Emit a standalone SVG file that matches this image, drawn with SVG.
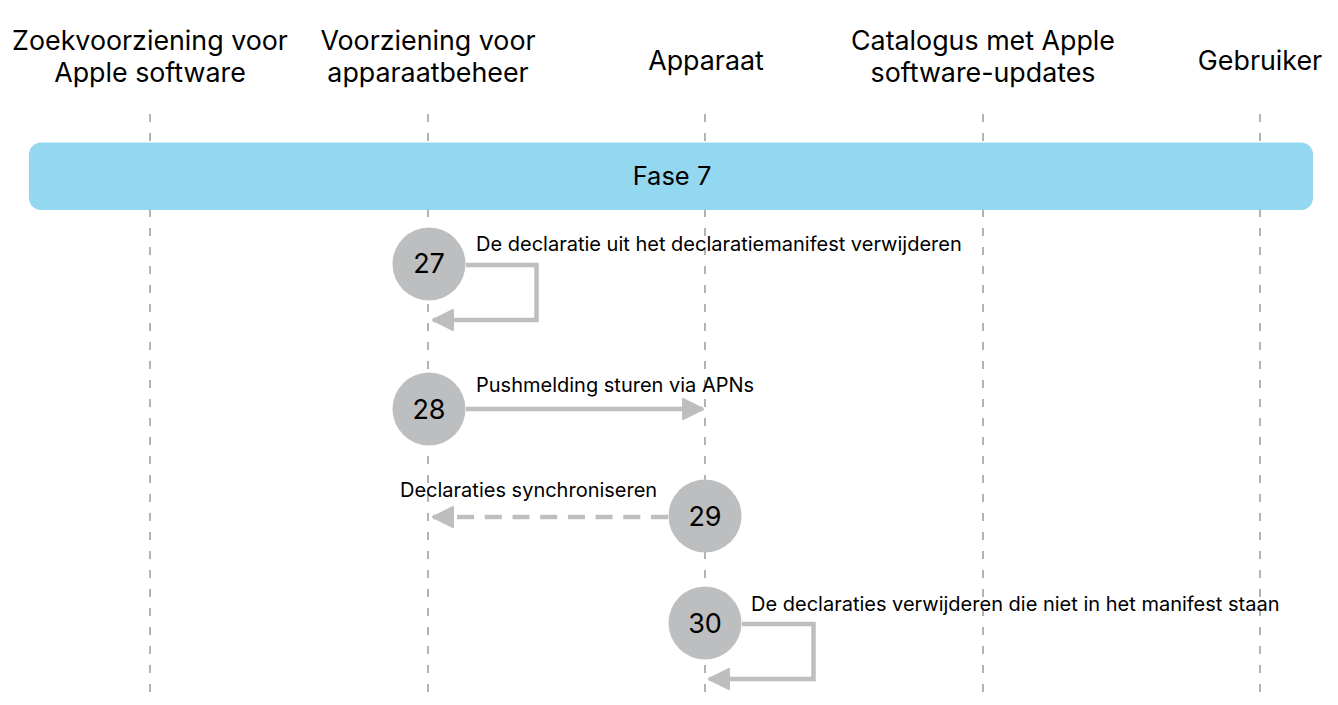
<svg xmlns="http://www.w3.org/2000/svg" width="1338" height="705" viewBox="0 0 1338 705">
<defs>
<style>
.hdr{font-family:Inter,"Liberation Sans",Arial,sans-serif;font-size:26.8px;fill:#000;text-anchor:middle}
.lbl{font-family:Inter,"Liberation Sans",Arial,sans-serif;font-size:20px;fill:#000}
.num{font-family:Inter,"Liberation Sans",Arial,sans-serif;font-size:27px;fill:#000;text-anchor:middle}
.life{stroke:#9a9a9a;stroke-width:1.5;stroke-dasharray:8 11;fill:none}
.step{fill:#bcbec0}
.arr{stroke:#bcbec0;stroke-width:4.5;fill:none}
</style>
<marker id="ah" viewBox="0 0 22 24" refX="21" refY="12" markerWidth="22" markerHeight="24" markerUnits="userSpaceOnUse" orient="auto">
<path d="M1,2 L21,12 L1,22 Z" fill="#bcbec0" stroke="#bcbec0" stroke-width="2" stroke-linejoin="round"/>
</marker>
</defs>
<rect width="1338" height="705" fill="#fff"/>
<g id="lifelines">
<line class="life" x1="150" y1="114" x2="150" y2="698"/>
<line class="life" x1="428" y1="114" x2="428" y2="698"/>
<line class="life" x1="705" y1="114" x2="705" y2="698"/>
<line class="life" x1="983" y1="114" x2="983" y2="698"/>
<line class="life" x1="1260" y1="114" x2="1260" y2="698"/>
</g>
<g id="headers">
<g id="actor-zoek"><text class="hdr" x="150" y="50">Zoekvoorziening voor</text><text class="hdr" x="150" y="82">Apple software</text></g>
<g id="actor-beheer"><text class="hdr" x="428" y="50">Voorziening voor</text><text class="hdr" x="428" y="82">apparaatbeheer</text></g>
<g id="actor-apparaat"><text class="hdr" x="706" y="70">Apparaat</text></g>
<g id="actor-catalogus"><text class="hdr" x="983" y="50">Catalogus met Apple</text><text class="hdr" x="983" y="82">software-updates</text></g>
<g id="actor-gebruiker"><text class="hdr" x="1260" y="70">Gebruiker</text></g>
</g>
<g id="phase">
<rect x="29" y="142.5" width="1284" height="67.5" rx="12" fill="#94d7f0"/>
<text x="672" y="185" font-family="Inter,Liberation Sans,Arial,sans-serif" font-size="25.5" text-anchor="middle" fill="#000">Fase 7</text>
</g>
<g id="connectors">
<polyline class="arr" points="466,265 536.5,265 536.5,320 433,320" marker-end="url(#ah)"/>
<line class="arr" x1="466" y1="409" x2="703" y2="409" marker-end="url(#ah)"/>
<line class="arr" x1="668" y1="517" x2="433" y2="517" stroke-dasharray="17 10.7" marker-end="url(#ah)"/>
<polyline class="arr" points="742,624 813.5,624 813.5,679 709,679" marker-end="url(#ah)"/>
</g>
<g id="step27"><circle class="step" cx="429" cy="264" r="36.5"/><text class="num" x="429" y="273">27</text><text class="lbl" x="476" y="251">De declaratie uit het declaratiemanifest verwijderen</text></g>
<g id="step28"><circle class="step" cx="429" cy="409" r="36.5"/><text class="num" x="429" y="418.5">28</text><text class="lbl" x="476" y="392">Pushmelding sturen via APNs</text></g>
<g id="step29"><circle class="step" cx="705" cy="516" r="36.5"/><text class="num" x="705" y="525.5">29</text><text class="lbl" x="400" y="497">Declaraties synchroniseren</text></g>
<g id="step30"><circle class="step" cx="705" cy="623" r="36.5"/><text class="num" x="705" y="632.5">30</text><text class="lbl" x="751" y="611">De declaraties verwijderen die niet in het manifest staan</text></g>
</svg>
